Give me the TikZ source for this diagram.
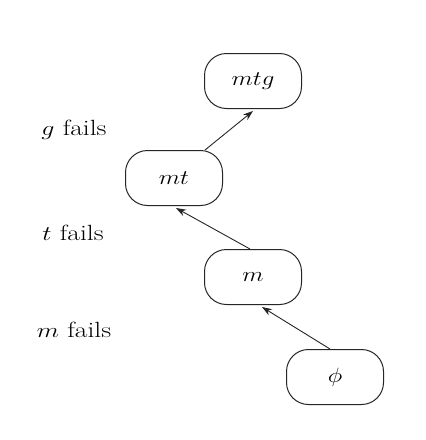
\documentclass[tikz,border=0pt]{standalone}
\usetikzlibrary{arrows.meta,calc}
\begin{document}
\begin{tikzpicture}[x=1pt,y=-1pt,
  state/.style={draw=black!85,line width=1pt,rounded corners=22pt,minimum width=97pt,minimum height=55pt,inner sep=0pt,font=\fontsize{22}{26}\selectfont},
  lbl/.style={inner sep=0pt,font=\fontsize{22}{26}\selectfont},
  arr/.style={draw=black!85,line width=0.9pt,-{Stealth[length=10pt,width=7pt]}}]
\useasboundingbox[fill=white] (0,0) rectangle (426,440);
\node[state] (mtg) at (253,81) {\scalebox{1.2}[1]{$mtg$}};
\node[state] (mt) at (174,178) {\scalebox{1.2}[1]{$mt$}};
\node[state] (m) at (253,277) {\scalebox{1.2}[1]{$m$}};
\node[state] (phi) at (335,377) {\scalebox{1.2}[1]{$\phi$}};
\node[lbl] (g) at (74,130) {\scalebox{1.25}[1]{$g$ fails}};
\node[lbl] (t) at (73,233) {\scalebox{1.25}[1]{$t$ fails}};
\node[lbl] (mf) at (74,330) {\scalebox{1.25}[1]{$m$ fails}};
\draw[arr] ($(phi.north)+(-5,0)$) -- ($(m.south)+(9,2)$);
\draw[arr] ($(m.north)+(-3,0)$) -- ($(mt.south)+(2,2)$);
\draw[arr] ($(mt.north)+(31,0)$) -- ($(mtg.south)+(0,2)$);
\end{tikzpicture}
\end{document}
